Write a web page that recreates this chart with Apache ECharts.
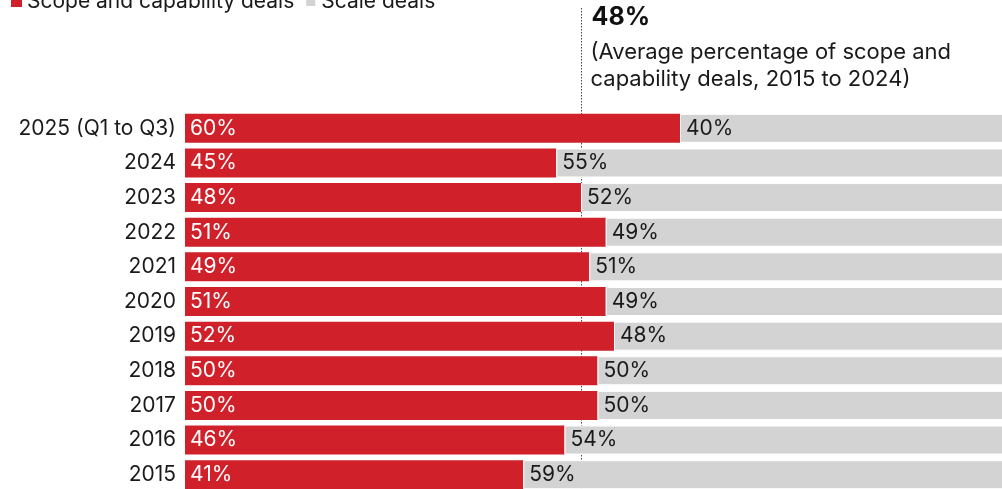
<!DOCTYPE html>
<html>
<head>
<meta charset="utf-8">
<style>
  html, body { margin: 0; padding: 0; background: #fff; }
  #chart { width: 1002px; height: 489px; }
</style>
<script src="https://cdn.jsdelivr.net/npm/echarts@6/dist/echarts.min.js"></script>
</head>
<body>
<div id="chart"></div>
<script>
const categories = ['2025 (Q1 to Q3)', '2024', '2023', '2022', '2021', '2020', '2019', '2018', '2017', '2016', '2015'];
const scopeDeals = [60, 45, 48, 51, 49, 51, 52, 50, 50, 46, 41];
const scaleDeals = [40, 55, 52, 49, 51, 49, 48, 50, 50, 54, 59];
const averageScope = 48;
const averageNote = ['(Average percentage of scope and', 'capability deals, 2015 to 2024)'];

const RED = '#D0202A';
const GREY = '#D3D3D3';
const INK = '#1a1a1a';
const FONT = 'Inter, Roboto, sans-serif';

const chart = echarts.init(document.getElementById('chart'));

const option = {
  animation: false,
  textStyle: { fontFamily: FONT },
  legend: {
    top: -14,
    left: 6,
    icon: 'rect',
    itemWidth: 11,
    itemHeight: 11,
    itemGap: 10,
    textStyle: { fontFamily: FONT, fontSize: 21, color: INK },
    data: ['Scope and capability deals', 'Scale deals']
  },
  grid: { left: 185, top: 111, width: 825, bottom: -3, outerBoundsMode: 'none', containLabel: false },
  xAxis: { type: 'value', min: 0, max: 100, show: false },
  yAxis: {
    type: 'category',
    data: categories,
    inverse: true,
    axisLine: { show: false },
    axisTick: { show: false },
    axisLabel: { fontFamily: FONT, fontSize: 21, color: INK, margin: 9 }
  },
  series: [
    {
      name: 'Scope and capability deals',
      type: 'bar',
      stack: 'total',
      barWidth: 29,
      z: 2,
      itemStyle: { color: RED },
      label: {
        show: true,
        position: 'insideLeft',
        distance: 5,
        formatter: p => p.value + '%',
        fontFamily: FONT, fontSize: 21, color: '#fff'
      },
      data: scopeDeals
    },
    {
      name: 'Scale deals',
      type: 'bar',
      stack: 'total',
      barWidth: 29,
      z: 2,
      itemStyle: { color: GREY, borderColor: '#fff', borderWidth: 1 },
      label: {
        show: true,
        position: 'insideLeft',
        distance: 6,
        formatter: p => p.value + '%',
        fontFamily: FONT, fontSize: 21, color: INK
      },
      data: scaleDeals
    }
  ]
};
chart.setOption(option);

// Average reference line and its note, placed through the value axis
function drawAverage() {
  const x = Math.round(chart.convertToPixel({ xAxisIndex: 0 }, averageScope)) + 0.5;
  chart.setOption({
    graphic: [
      {
        type: 'line', z: 0, silent: true,
        shape: { x1: x, y1: 8, x2: x, y2: 489 },
        style: { stroke: '#444', lineWidth: 1, lineDash: [1.5, 1.5] }
      },
      {
        type: 'text', z: 5, x: x + 10, y: 5,
        style: { text: averageScope + '%', font: 'bold 25px ' + FONT, fill: '#111' }
      },
      {
        type: 'text', z: 5, x: x + 9, y: 39,
        style: { text: averageNote.join('\n'), font: '22px ' + FONT, lineHeight: 27, fill: INK }
      }
    ]
  });
}
drawAverage();
</script>
</body>
</html>
